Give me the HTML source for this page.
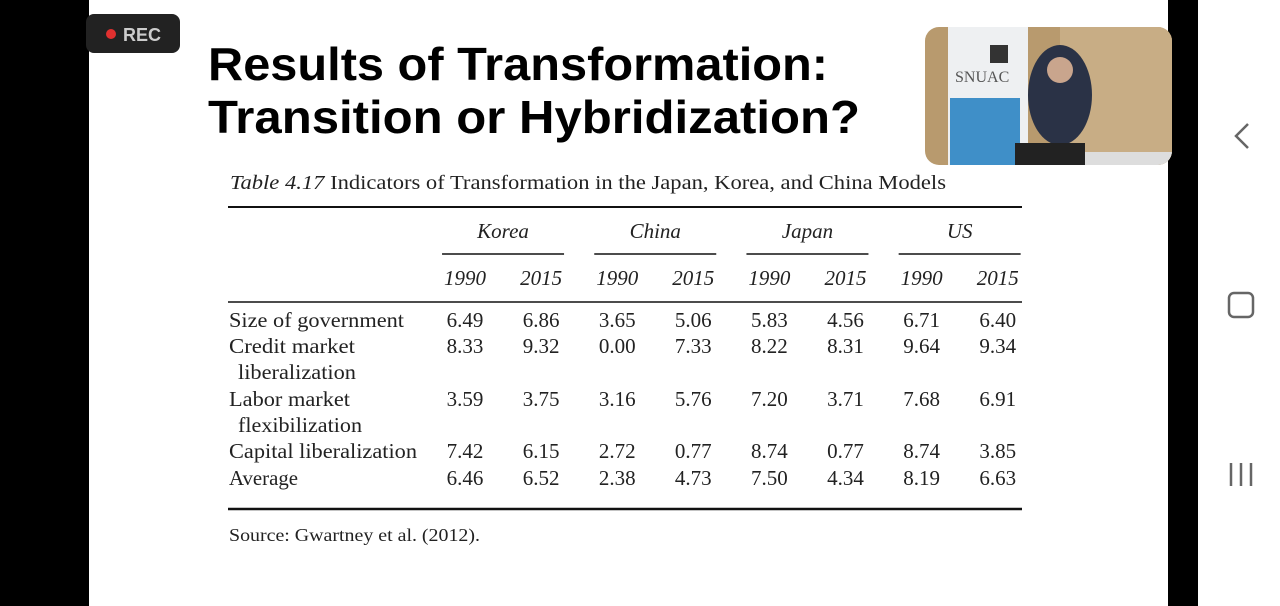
<!DOCTYPE html>
<html><head><meta charset="utf-8"><style>
html,body{margin:0;padding:0;width:1280px;height:606px;overflow:hidden;background:#000}
svg{display:block}
.s{font-family:"Liberation Serif",serif;fill:#222}
.n{font-size:21px;text-anchor:middle}
.y{font-size:21px;text-anchor:middle;font-style:italic}
</style></head><body>
<svg width="1280" height="606" viewBox="0 0 1280 606" xmlns="http://www.w3.org/2000/svg">
<rect x="0" y="0" width="1280" height="606" fill="#000"/>
<rect x="89" y="0" width="1079" height="606" fill="#fff"/>
<rect x="1198" y="0" width="82" height="606" fill="#fff"/>
<g>
<rect x="86" y="14" width="94" height="39" rx="8" fill="#222"/>
<circle cx="111" cy="34" r="5" fill="#e0302f"/>
<text x="123" y="41" font-family="Liberation Sans,sans-serif" font-size="18" font-weight="bold" fill="#ccc">REC</text>
</g>
<g font-family="Liberation Sans,sans-serif" font-weight="bold" font-size="46" fill="#000">
<text x="208" y="80" textLength="620" lengthAdjust="spacingAndGlyphs">Results of Transformation:</text>
<text x="208" y="133" textLength="652" lengthAdjust="spacingAndGlyphs">Transition or Hybridization?</text>
</g>
<g>
<clipPath id="vc"><rect x="925" y="27" width="247" height="138" rx="14"/></clipPath>
<g clip-path="url(#vc)">
<rect x="925" y="27" width="247" height="138" fill="#b89a6e"/>
<rect x="1060" y="27" width="112" height="138" fill="#c8ad85"/>
<rect x="948" y="27" width="80" height="138" fill="#eef0f2"/>
<rect x="950" y="98" width="70" height="67" fill="#3f8fc8"/>
<text x="955" y="82" font-family="Liberation Serif,serif" font-size="16" fill="#555">SNUAC</text>
<rect x="990" y="45" width="18" height="18" fill="#333"/>
<ellipse cx="1060" cy="95" rx="32" ry="50" fill="#2a3246"/>
<circle cx="1060" cy="70" r="13" fill="#c9a58d"/>
<rect x="1015" y="143" width="70" height="22" fill="#222"/>
<rect x="1085" y="152" width="87" height="13" fill="#ddd"/>
</g></g>
<g fill="none" stroke="#666" stroke-width="2.5">
<polyline points="1248,124 1236,136 1248,148"/>
<rect x="1229" y="293" width="24" height="24" rx="5"/>
<g><line x1="1231" y1="463" x2="1231" y2="486"/><line x1="1241" y1="463" x2="1241" y2="486"/><line x1="1251" y1="463" x2="1251" y2="486"/></g>
</g>
<g class="s">
<text x="230" y="189" font-size="20" textLength="716" lengthAdjust="spacingAndGlyphs"><tspan font-style="italic">Table 4.17</tspan> Indicators of Transformation in the Japan, Korea, and China Models</text>
<line x1="228" y1="207" x2="1022" y2="207" stroke="#111" stroke-width="2"/>
<line x1="228" y1="302" x2="1022" y2="302" stroke="#111" stroke-width="1.5"/>
<line x1="228" y1="509" x2="1022" y2="509" stroke="#111" stroke-width="2.5"/>
<g id="hdr"></g><g id="rows"></g>
<text x="229" y="541" font-size="18" textLength="251" lengthAdjust="spacingAndGlyphs">Source: Gwartney et al. (2012).</text>
</g>
</svg>
<script>
const groups=["Korea","China","Japan","US"];
const years=["1990","2015"];
const rowLabels=[["Size of government"],["Credit market","liberalization"],["Labor market","flexibilization"],["Capital liberalization"],["Average"]];
const labelWidths=[[175],[126,118],[121,124],[188],[69]];
const values=[
["6.49","6.86","3.65","5.06","5.83","4.56","6.71","6.40"],
["8.33","9.32","0.00","7.33","8.22","8.31","9.64","9.34"],
["3.59","3.75","3.16","5.76","7.20","3.71","7.68","6.91"],
["7.42","6.15","2.72","0.77","8.74","0.77","8.74","3.85"],
["6.46","6.52","2.38","4.73","7.50","4.34","8.19","6.63"]];
const rowY=[327,353,406,458,485];
const NS="http://www.w3.org/2000/svg";
const colX=i=>465+i*76.1;
function t(p,x,y,s,cls){const e=document.createElementNS(NS,"text");e.setAttribute("x",x);e.setAttribute("y",y);e.setAttribute("class",cls);e.textContent=s;p.appendChild(e);return e;}
const hdr=document.getElementById("hdr"),rows=document.getElementById("rows");
groups.forEach((g,i)=>{
const cx=(colX(2*i)+colX(2*i+1))/2;
const e=t(hdr,cx,238,g,"y");


const l=document.createElementNS(NS,"line");
l.setAttribute("x1",cx-61);l.setAttribute("x2",cx+61);l.setAttribute("y1",254);l.setAttribute("y2",254);l.setAttribute("stroke","#111");l.setAttribute("stroke-width","1.5");
hdr.appendChild(l);
years.forEach((y,j)=>{const ye=t(hdr,colX(2*i+j),285,y,"y");

});
});
rowLabels.forEach((lab,r)=>{
lab.forEach((s,k)=>{const e=t(rows,k?238:229,rowY[r]+k*26,s,"");e.setAttribute("font-size","21");
e.setAttribute("textLength",labelWidths[r][k]);e.setAttribute("lengthAdjust","spacingAndGlyphs");

});
values[r].forEach((v,c)=>{const e=t(rows,colX(c),rowY[r],v,"n");

});
});
</script>
</body></html>
